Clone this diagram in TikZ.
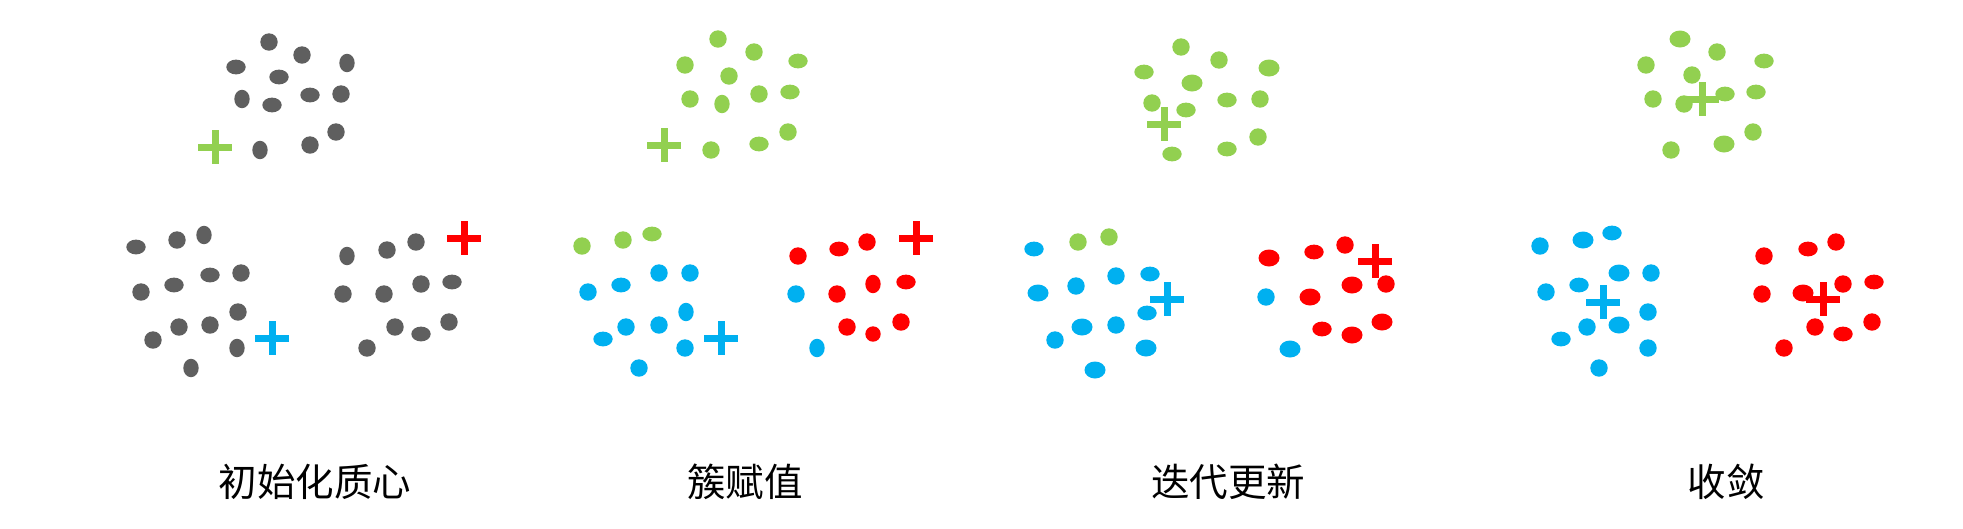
\documentclass[tikz,border=0pt]{standalone}
\usepackage{fontspec}
\newfontfamily\cjk{Noto Sans CJK SC}
\definecolor{dg}{HTML}{5F5F5F}
\definecolor{gn}{HTML}{92D050}
\definecolor{bl}{HTML}{00B0F0}
\definecolor{rd}{HTML}{FF0000}
\newcommand\dC[3]{\fill[#1] (#2,#3) circle (8.7pt);}
\newcommand\dS[3]{\fill[#1] (#2,#3) circle (7.7pt);}
\newcommand\dH[3]{\fill[#1] (#2,#3) ellipse [x radius=9.7pt, y radius=7.4pt];}
\newcommand\dL[3]{\fill[#1] (#2,#3) ellipse [x radius=10.5pt, y radius=8.5pt];}
\newcommand\dV[3]{\fill[#1] (#2,#3) ellipse [x radius=7.7pt, y radius=9.2pt];}
\newcommand\plus[3]{\fill[#1] (#2-17,#3-3.5) rectangle (#2+17,#3+3.5); \fill[#1] (#2-3.5,#3-17) rectangle (#2+3.5,#3+17);}
\begin{document}
\begin{tikzpicture}[x=1pt,y=-1pt,lbl/.style={font=\cjk\fontsize{38.5}{46}\selectfont,text=black,inner sep=0pt}]
\useasboundingbox[fill=white] (0,0) rectangle (1963,528);
% ---------- Panel 1 ----------
\dC{dg}{269}{42}\dC{dg}{302}{55}\dV{dg}{347}{63}\dH{dg}{236}{67}\dH{dg}{279}{77}
\dV{dg}{242}{99}\dH{dg}{272}{105}\dH{dg}{310}{95}\dC{dg}{341}{94}
\dV{dg}{260}{150}\dC{dg}{310}{145}\dC{dg}{336}{132}
\plus{gn}{215}{147}
\dH{dg}{136}{247}\dC{dg}{177}{240}\dV{dg}{204}{235}\dC{dg}{141}{292}\dH{dg}{174}{285}
\dH{dg}{210}{275}\dC{dg}{241}{273}\dC{dg}{153}{340}\dC{dg}{179}{327}\dC{dg}{210}{325}
\dC{dg}{238}{312}\dV{dg}{237}{348}\dV{dg}{191}{368}
\plus{bl}{272}{338}
\dV{dg}{347}{256}\dC{dg}{387}{250}\dC{dg}{416}{242}\dC{dg}{343}{294}\dC{dg}{384}{294}
\dC{dg}{421}{284}\dH{dg}{452}{282}\dC{dg}{395}{327}\dH{dg}{421}{334}\dC{dg}{449}{322}
\dC{dg}{367}{348}
\plus{rd}{464}{238}
% ---------- Panel 2 ----------
\dC{gn}{718}{39}\dC{gn}{754}{52}\dH{gn}{798}{61}\dC{gn}{685}{65}\dC{gn}{729}{76}
\dC{gn}{690}{99}\dV{gn}{722}{104}\dC{gn}{759}{94}\dH{gn}{790}{92}\dC{gn}{711}{150}
\dH{gn}{759}{144}\dC{gn}{788}{132}
\plus{gn}{664}{145}
\dC{gn}{582}{246}\dC{gn}{623}{240}\dH{gn}{652}{234}
\dC{bl}{588}{292}\dH{bl}{621}{285}\dC{bl}{659}{273}\dC{bl}{690}{273}\dH{bl}{603}{339}
\dC{bl}{626}{327}\dC{bl}{659}{325}\dV{bl}{686}{312}\dC{bl}{685}{348}\dC{bl}{639}{368}
\plus{bl}{721}{338}
\dC{rd}{798}{256}\dH{rd}{839}{249}\dC{rd}{867}{242}\dC{bl}{796}{294}\dC{rd}{837}{294}
\dV{rd}{873}{284}\dH{rd}{906}{282}\dC{rd}{847}{327}\dS{rd}{873}{334}\dC{rd}{901}{322}
\dV{bl}{817}{348}
\plus{rd}{916}{238}
% ---------- Panel 3 ----------
\dC{gn}{1181}{47}\dC{gn}{1219}{60}\dL{gn}{1269}{68}\dH{gn}{1144}{72}\dL{gn}{1192}{83}
\dC{gn}{1152}{103}\dH{gn}{1186}{110}\dH{gn}{1227}{100}\dC{gn}{1260}{99}
\dH{gn}{1172}{154}\dH{gn}{1227}{149}\dC{gn}{1258}{137}
\plus{gn}{1164}{124}
\dH{bl}{1034}{249}\dC{gn}{1078}{242}\dC{gn}{1109}{237}\dL{bl}{1038}{293}\dC{bl}{1076}{286}
\dC{bl}{1116}{276}\dH{bl}{1150}{274}\dC{bl}{1055}{340}\dL{bl}{1082}{327}\dC{bl}{1116}{325}
\dH{bl}{1147}{313}\dL{bl}{1146}{348}\dL{bl}{1095}{370}
\plus{bl}{1167}{299}
\dL{rd}{1269}{258}\dH{rd}{1314}{252}\dC{rd}{1345}{245}\dC{bl}{1266}{297}\dL{rd}{1310}{297}
\dL{rd}{1352}{285}\dC{rd}{1386}{284}\dH{rd}{1322}{329}\dL{rd}{1352}{335}\dL{rd}{1382}{322}
\dL{bl}{1290}{349}
\plus{rd}{1375}{261}
% ---------- Panel 4 ----------
\dL{gn}{1680}{39}\dC{gn}{1717}{52}\dH{gn}{1764}{61}\dC{gn}{1646}{65}\dC{gn}{1692}{75}
\dC{gn}{1653}{99}\dC{gn}{1684}{104}\dH{gn}{1725}{94}\dH{gn}{1756}{92}\dC{gn}{1671}{150}
\dL{gn}{1724}{144}\dC{gn}{1753}{132}
\plus{gn}{1702}{99}
\dC{bl}{1540}{246}\dL{bl}{1583}{240}\dH{bl}{1612}{233}\dC{bl}{1546}{292}\dH{bl}{1579}{285}
\dL{bl}{1619}{273}\dC{bl}{1651}{273}\dH{bl}{1561}{339}\dC{bl}{1587}{327}\dL{bl}{1619}{325}
\dC{bl}{1648}{312}\dC{bl}{1648}{348}\dC{bl}{1599}{368}
\plus{bl}{1603}{302}
\dC{rd}{1764}{256}\dH{rd}{1808}{249}\dC{rd}{1836}{242}\dC{rd}{1762}{294}\dL{rd}{1803}{293}
\dC{rd}{1843}{284}\dH{rd}{1874}{282}\dC{rd}{1815}{327}\dH{rd}{1843}{334}\dC{rd}{1872}{322}
\dC{rd}{1784}{348}
\plus{rd}{1823}{299}
% ---------- Labels ----------
\node[lbl] (l1) at (315,482) {初始化质心};
\node[lbl] (l2) at (745,482) {簇赋值};
\node[lbl] (l3) at (1228,482) {迭代更新};
\node[lbl] (l4) at (1726,482) {收敛};
\end{tikzpicture}
\end{document}
